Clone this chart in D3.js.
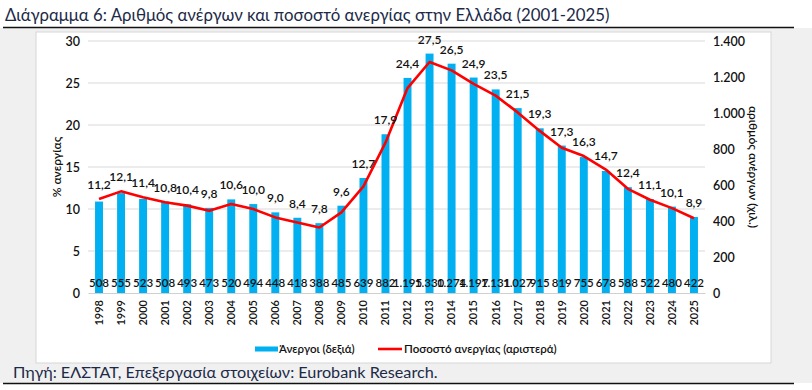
<!DOCTYPE html>
<html>
<head>
<meta charset="utf-8">
<script src="https://cdn.jsdelivr.net/npm/d3@7"></script>
<style>
  body { margin: 0; background: #fff; }
  svg { display: block; font-family: Lato, "Noto Sans", sans-serif; }
</style>
</head>
<body>
<div id="chart"></div>
<script>
// data
var years = ['1998','1999','2000','2001','2002','2003','2004','2005','2006','2007','2008','2009','2010','2011',
  '2012','2013','2014','2015','2016','2017','2018','2019','2020','2021','2022','2023','2024','2025'];
var unemployed = [508,555,523,508,493,473,520,494,448,418,388,485,639,882,
  1195,1330,1274,1197,1131,1027,915,819,755,678,588,522,480,422];
var rate = [11.2,12.1,11.4,10.8,10.4,9.8,10.6,10.0,9.0,8.4,7.8,9.6,12.7,17.9,
  24.4,27.5,26.5,24.9,23.5,21.5,19.3,17.3,16.3,14.7,12.4,11.1,10.1,8.9];
var leftTicks = [0,5,10,15,20,25,30];
var rightTicks = [0,200,400,600,800,1000,1200,1400];

var gr = d3.formatLocale({decimal: ',', thousands: '.', grouping: [3], currency: ['', '€']});
var fmtRate = gr.format('.1f');
var fmtCount = gr.format(',d');

var W = 812, H = 390;
var svg = d3.select('#chart').append('svg').attr('width', W).attr('height', H);

// background panels
svg.append('rect').attr('x', 0).attr('y', 28).attr('width', W).attr('height', 355).attr('fill', '#f0f0f0');
svg.append('rect').attr('x', 36).attr('y', 32).attr('width', 735).attr('height', 331)
  .attr('fill', '#fff').attr('stroke', '#d6d6d6');

svg.append('text').attr('x', 5).attr('y', 21)
  .attr('font-size', 16.8).attr('fill', '#1c2a48')
  .text('Διάγραμμα 6: Αριθμός ανέργων και ποσοστό ανεργίας στην Ελλάδα (2001-2025)');
svg.append('line').attr('x1', 3).attr('x2', 794).attr('y1', 27.5).attr('y2', 27.5)
  .attr('stroke', '#111').attr('stroke-width', 1.3);

svg.append('text').attr('x', 13).attr('y', 378)
  .attr('font-size', 16.2).attr('fill', '#1c2a48')
  .text('Πηγή: ΕΛΣΤΑΤ, Επεξεργασία στοιχείων: Eurobank Research.');
svg.append('line').attr('x1', 3).attr('x2', 794).attr('y1', 383.5).attr('y2', 383.5)
  .attr('stroke', '#111').attr('stroke-width', 1.3);

var x0 = 88, x1 = 705, y0 = 293, y1 = 41;
var x = d3.scaleBand().domain(years).range([x0, x1]).paddingInner(0.64).paddingOuter(0.32);
var yL = d3.scaleLinear().domain([0, 30]).range([y0, y1]);
var yR = d3.scaleLinear().domain([0, 1400]).range([y0, y1]);

// gridlines (left axis)
svg.append('g').selectAll('line').data(leftTicks.slice(1)).enter().append('line')
  .attr('x1', x0).attr('x2', x1)
  .attr('y1', function (d) { return yL(d); }).attr('y2', function (d) { return yL(d); })
  .attr('stroke', '#d9d9d9').attr('stroke-width', 1);

// left axis
var axL = svg.append('g').attr('transform', 'translate(' + x0 + ',0)')
  .call(d3.axisLeft(yL).tickValues(leftTicks).tickSize(0).tickPadding(8));
axL.select('.domain').remove();
axL.selectAll('text').attr('font-size', 12.5).attr('font-weight', 600).attr('fill', '#111')
  .attr('font-family', 'Lato, sans-serif');

// right axis
var axR = svg.append('g').attr('transform', 'translate(' + x1 + ',0)')
  .call(d3.axisRight(yR).tickValues(rightTicks).tickSize(0).tickPadding(8).tickFormat(fmtCount));
axR.select('.domain').remove();
axR.selectAll('text').attr('font-size', 12.5).attr('font-weight', 600).attr('fill', '#111')
  .attr('font-family', 'Lato, sans-serif');

// axis titles
svg.append('text').attr('transform', 'translate(61,' + ((y0 + y1) / 2) + ') rotate(-90)')
  .attr('text-anchor', 'middle').attr('font-size', 12).attr('font-weight', 600).attr('fill', '#111')
  .text('% ανεργίας');
svg.append('text').attr('transform', 'translate(749,' + ((y0 + y1) / 2) + ') rotate(90)')
  .attr('text-anchor', 'middle').attr('font-size', 12).attr('font-weight', 600).attr('fill', '#111')
  .text('αριθμός ανέργων (χιλ.)');

// bars
svg.append('g').selectAll('rect').data(years).enter().append('rect')
  .attr('x', function (d) { return x(d); })
  .attr('width', x.bandwidth())
  .attr('y', function (d, i) { return yR(unemployed[i]); })
  .attr('height', function (d, i) { return y0 - yR(unemployed[i]); })
  .attr('fill', '#00b0f0');

// x axis
var axX = svg.append('g').attr('transform', 'translate(0,' + y0 + ')')
  .call(d3.axisBottom(x).tickSize(0).tickPadding(6));
axX.select('.domain').attr('stroke', '#d0d0d0');
axX.selectAll('text')
  .attr('transform', 'rotate(-90)')
  .attr('text-anchor', 'end')
  .attr('x', -7).attr('y', 0).attr('dy', '0.35em')
  .attr('font-size', 11).attr('font-weight', 600).attr('fill', '#111')
  .attr('font-family', 'Lato, sans-serif');

// line
var line = d3.line()
  .x(function (d, i) { return x(years[i]) + x.bandwidth() / 2; })
  .y(function (d) { return yL(d); });
svg.append('path').datum(rate).attr('d', line)
  .attr('fill', 'none').attr('stroke', '#ff0000').attr('stroke-width', 2.6)
  .attr('stroke-linejoin', 'round');

// count labels at the bottom
svg.append('g').selectAll('text').data(unemployed).enter().append('text')
  .attr('x', function (d, i) { return x(years[i]) + x.bandwidth() / 2; })
  .attr('y', y0 - 6)
  .attr('text-anchor', 'middle').attr('font-size', 11.5).attr('font-weight', 600).attr('fill', '#111')
  .text(function (d) { return fmtCount(d); });

// rate labels above
svg.append('g').selectAll('text').data(rate).enter().append('text')
  .attr('x', function (d, i) { return x(years[i]) + x.bandwidth() / 2; })
  .attr('y', function (d, i) { return Math.min(yL(d), yR(unemployed[i])) - 10; })
  .attr('text-anchor', 'middle').attr('font-size', 12).attr('font-weight', 600).attr('fill', '#111')
  .text(function (d) { return fmtRate(d); });

// legend
var lg = svg.append('g').attr('transform', 'translate(0,349)');
lg.append('rect').attr('x', 255).attr('y', -2.5).attr('width', 23).attr('height', 5).attr('fill', '#00b0f0');
lg.append('text').attr('x', 279).attr('y', 4).attr('font-size', 11.5).attr('font-weight', 600).attr('fill', '#111')
  .text('Άνεργοι (δεξιά)');
lg.append('line').attr('x1', 378).attr('x2', 402).attr('y1', 0).attr('y2', 0)
  .attr('stroke', '#ff0000').attr('stroke-width', 2.6);
lg.append('text').attr('x', 404).attr('y', 4).attr('font-size', 11.5).attr('font-weight', 600).attr('fill', '#111')
  .text('Ποσοστό ανεργίας (αριστερά)');
</script>
</body>
</html>
